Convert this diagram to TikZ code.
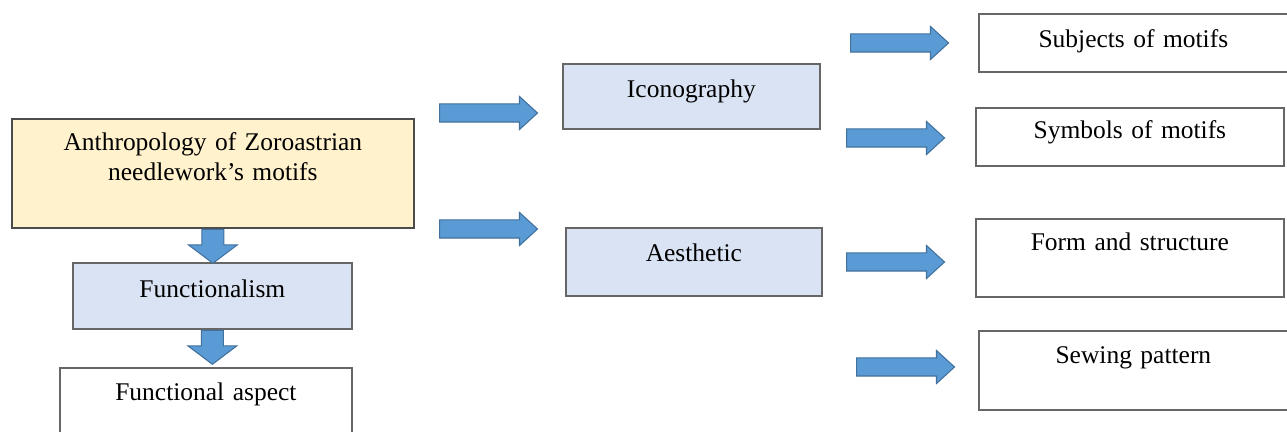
\documentclass[tikz,border=0pt]{standalone}
\usepackage{fontspec}
\setmainfont{Liberation Serif}
\usetikzlibrary{shapes.arrows}

\definecolor{arrowblue}{RGB}{91,155,213}
\definecolor{arrowedge}{RGB}{65,113,156}
\definecolor{paleyellow}{RGB}{255,242,204}
\definecolor{paleblue}{RGB}{218,227,243}

\begin{document}
\begin{tikzpicture}[
    text centered,
	box/.style={
	  rectangle,
	  anchor=north west,
	  inner sep=0pt,
	  align=center,
	  draw=black!60,
	  line width=1pt,
	  fill=white,
	  font=\fontsize{14.5}{17}\selectfont
	},
	yellowbox/.style={
	  box,
	  draw=black!70,
	  fill=paleyellow
	},
	bluebox/.style={
	  box,
	  fill=paleblue
	},
	rightarrow/.style={
	  single arrow,
	  anchor=tail,
	  inner xsep=0pt,
	  inner ysep=0.17cm,
	  minimum height=1.96cm,
	  single arrow head extend=0.15cm,
	  single arrow tip angle=85,
	  fill=arrowblue,
	  draw=arrowedge,
	  line width=0.6pt
	},
	downarrow/.style={
	  single arrow,
	  anchor=tail,
	  rotate=-90,
	  inner xsep=0pt,
	  inner ysep=0.21cm,
	  minimum height=0.68cm,
	  single arrow head extend=0.27cm,
	  single arrow tip angle=106,
	  fill=arrowblue,
	  draw=arrowedge,
	  line width=0.6pt
	}
	]
	\useasboundingbox (0, 0) rectangle (25.74, -8.64);
	\node at (0.22, -2.36) [yellowbox, text width=8.04cm, text height=0.64cm, text depth=1.54cm] (anthro) {Anthropology of Zoroastrian\\needlework's motifs};
	\node at (1.44, -5.24) [bluebox, text width=5.58cm, text height=0.70cm, text depth=0.62cm] (func) {Functionalism};
	\node at (1.18, -7.34) [box, text width=5.84cm, text height=0.66cm, text depth=0.80cm] (aspect) {Functional aspect};
	\node at (11.24, -1.26) [bluebox, text width=5.14cm, text height=0.68cm, text depth=0.62cm] (icono) {Iconography};
	\node at (11.30, -4.54) [bluebox, text width=5.12cm, text height=0.68cm, text depth=0.68cm] (aesth) {Aesthetic};
	\node at (19.56, -0.26) [box, text width=6.18cm, text height=0.68cm, text depth=0.48cm] (subj) {Subjects of motifs};
	\node at (19.50, -2.14) [box, text width=6.16cm, text height=0.62cm, text depth=0.54cm] (symb) {Symbols of motifs};
	\node at (19.50, -4.36) [box, text width=6.16cm, text height=0.64cm, text depth=0.92cm] (form) {Form and structure};
	\node at (19.56, -6.60) [box, text width=6.18cm, text height=0.66cm, text depth=0.92cm] (sew) {Sewing pattern};
	% block arrows
	\node at (anthro.south) [downarrow] (toFunc) {};
	\node at (func.south) [downarrow] (toAspect) {};
	\node at (8.78, -2.26) [rightarrow] (toIcono) {};
	\node at (8.78, -4.58) [rightarrow] (toAesth) {};
	\node at (17.00, -0.86) [rightarrow] (toSubj) {};
	\node at (16.92, -2.76) [rightarrow] (toSymb) {};
	\node at (16.92, -5.24) [rightarrow] (toForm) {};
	\node at (17.12, -7.34) [rightarrow] (toSew) {};
\end{tikzpicture}
\end{document}
